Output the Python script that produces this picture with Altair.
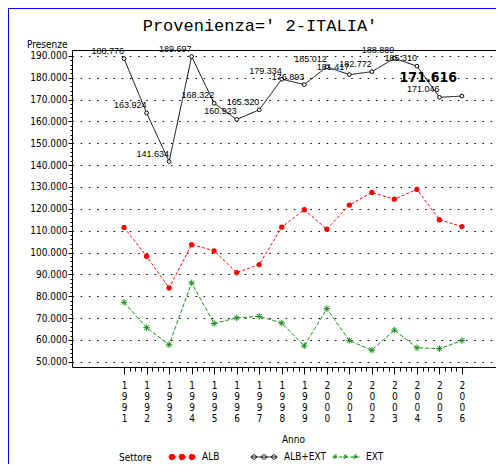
import altair as alt
import pandas as pd

years = list(range(1991, 2007))
alb = [111500, 98300, 83800, 103600, 100800, 90800, 94500, 111600,
       119600, 110700, 121700, 127500, 124400, 128900, 115000, 111900]
tot = [188776, 163924, 141634, 189697, 168322, 160923, 165320, 179334,
       176893, 185012, 181417, 182772, 188889, 185310, 171046, 171616]
ext = [77200, 65600, 57800, 86100, 67500, 70100, 70800, 67700,
       57300, 74300, 59700, 55300, 64500, 56400, 56000, 59700]
series = ["ALB", "ALB+EXT", "EXT"]
colors = ["#ff0000", "#000000", "#1a8c1a"]
y_ticks = list(range(50000, 190001, 10000))
y_minor = list(range(50000, 190001, 2000))
x_minor = [1991 + i * 0.25 for i in range(61)]
title_text = "Provenienza=' 2-ITALIA'"

rows = []
for i, yr in enumerate(years):
    rows.append({"Anno": yr, "Settore": "ALB", "Presenze": alb[i]})
    rows.append({"Anno": yr, "Settore": "ALB+EXT", "Presenze": tot[i]})
    rows.append({"Anno": yr, "Settore": "EXT", "Presenze": ext[i]})
df = pd.DataFrame(rows)

W, H = 424, 317
NARROW = "'Liberation Sans Narrow', 'DejaVu Sans Condensed', 'Liberation Sans', sans-serif"

xs = alt.Scale(domain=[1988.69, 2007.51], nice=False, zero=False)
ys = alt.Scale(domain=[47600, 192700], nice=False, zero=False)

# legend symbol paths (three markers joined by a line)
def circ(cx, r):
    return (f"M{cx + r},0A{r},{r} 0 1,1 {cx - r},0A{r},{r} 0 1,1 {cx + r},0Z")

def star(cx, r):
    d = r * 0.72
    return (f"M{cx - r},0L{cx + r},0M{cx},{-r}L{cx},{r}"
            f"M{cx - d},{-d}L{cx + d},{d}M{cx - d},{d}L{cx + d},{-d}")

p_alb = "M-1,0L1,0" + "".join(circ(c, 0.22) for c in (-0.74, 0, 0.74))
p_tot = "M-1,0L1,0" + "".join(circ(c, 0.17) for c in (-0.74, 0, 0.74))
p_ext = "M-1,0L1,0" + "".join(star(c, 0.22) for c in (-0.74, 0, 0.74))
sym_expr = (f"datum.value === 'ALB' ? '{p_alb}' : datum.value === 'ALB+EXT' ? "
            f"'{p_tot}' : '{p_ext}'")
fill_expr = ("datum.value === 'ALB' ? '#ff0000' : datum.value === 'ALB+EXT' ? "
             "'#ffffff' : 'transparent'")
ast = "M-1,0L1,0M0,-1L0,1M-0.72,-0.72L0.72,0.72M-0.72,0.72L0.72,-0.72"

base = alt.Chart(df)

lines = base.mark_line(strokeWidth=1).encode(
    x=alt.X("Anno:Q", scale=xs, axis=alt.Axis(
        values=years, format="d", labelExpr="split(datum.label, '')",
        grid=False, tickSize=7, tickColor="black", domainColor="black",
        labelFont=NARROW, labelFontSize=10, labelLineHeight=11,
        labelBaseline="top", labelAlign="center", labelPadding=6,
        labelColor="black", title="Anno", titleFont=NARROW,
        titleFontSize=10, titleFontWeight="normal", titleX=221, titleY=72,
        titleBaseline="middle", titleColor="black")),
    y=alt.Y("Presenze:Q", scale=ys, axis=alt.Axis(
        values=y_ticks, labelExpr="replace(format(datum.value, ','), ',', '.')",
        grid=True, gridDash=[1.5, 6.7], gridColor="black", gridWidth=1.2,
        tickSize=4, tickColor="black", domainColor="black",
        labelFont=NARROW, labelFontSize=10, labelPadding=1, labelColor="black",
        title="Presenze", titleAngle=0, titleAlign="right",
        titleBaseline="middle", titleX=-5, titleY=-6, titleFont=NARROW,
        titleFontSize=10, titleFontWeight="normal", titleColor="black")),
    color=alt.Color("Settore:N", scale=alt.Scale(domain=series, range=colors),
                    legend=alt.Legend(
                        orient="none", legendX=47, legendY=393,
                        direction="horizontal", title="Settore",
                        titleOrient="left", titleAnchor="middle",
                        titleBaseline="top", titleFont=NARROW,
                        titleFontSize=10, titleFontWeight="normal",
                        titleColor="black", titlePadding=16,
                        symbolType=alt.ExprRef(expr=sym_expr),
                        symbolFillColor=alt.ExprRef(expr=fill_expr),
                        symbolSize=729, symbolStrokeWidth=1,
                        labelFont=NARROW, labelFontSize=10, labelColor="black",
                        labelOffset=6, gridAlign="all", columnPadding=3)),
    strokeDash=alt.StrokeDash("Settore:N",
                              scale=alt.Scale(domain=series,
                                              range=[[3, 2], [1, 0], [4, 2]]),
                              legend=None),
)

pts_alb = base.transform_filter("datum.Settore === 'ALB'").mark_circle(
    color="#ff0000", size=28, opacity=1).encode(
    x=alt.X("Anno:Q", scale=xs, axis=alt.Axis(
        values=x_minor, labels=False, domain=False, grid=False, tickSize=4,
        tickColor="black", title=None, orient="bottom")),
    y=alt.Y("Presenze:Q", scale=ys, axis=alt.Axis(
        values=y_minor, labels=False, domain=False, grid=False, tickSize=2,
        tickColor="black", title=None, orient="left")),
)

pts_tot = base.transform_filter("datum.Settore === 'ALB+EXT'").mark_point(
    shape="circle", filled=True, fill="white", stroke="black", strokeWidth=1,
    size=14, opacity=1).encode(
    x=alt.X("Anno:Q", scale=xs, axis=alt.Axis(
        orient="top", labels=False, ticks=False, grid=False, domain=True,
        domainColor="black", title=None)),
    y=alt.Y("Presenze:Q", scale=ys, axis=None),
)

pts_ext = base.transform_filter("datum.Settore === 'EXT'").mark_point(
    shape=ast, filled=False, stroke="#1a8c1a", strokeWidth=1, size=42,
    opacity=1).encode(
    x=alt.X("Anno:Q", scale=xs, axis=None),
    y=alt.Y("Presenze:Q", scale=ys, axis=None),
)

labels = base.transform_filter(
    "datum.Settore === 'ALB+EXT' && datum.Anno < 2006").transform_calculate(
    lab="replace(format(datum.Presenze, ','), ',', '.')").mark_text(
    align="right", baseline="alphabetic", dy=-5, fontSize=9,
    font="Liberation Sans", color="black").encode(
    x=alt.X("Anno:Q", scale=xs, axis=None),
    y=alt.Y("Presenze:Q", scale=ys, axis=None),
    text="lab:N",
)

big = base.transform_filter(
    "datum.Settore === 'ALB+EXT' && datum.Anno === 2006").transform_calculate(
    lab="replace(format(datum.Presenze, ','), ',', '.')").mark_text(
    align="right", baseline="alphabetic", dx=-5, dy=-14, fontSize=14,
    fontWeight="bold", font=NARROW, color="black").encode(
    x=alt.X("Anno:Q", scale=xs, axis=None),
    y=alt.Y("Presenze:Q", scale=ys, axis=None),
    text="lab:N",
)

one = pd.DataFrame({"k": [0]})
border_left = alt.Chart(one).mark_rule(color="#0000ff", strokeWidth=1).encode(
    x=alt.value(-63.5), y=alt.value(-42), y2=alt.value(H + 120))
border_top = alt.Chart(one).mark_rule(color="#0000ff", strokeWidth=1).encode(
    y=alt.value(-41.5), x=alt.value(-64), x2=alt.value(W + 10))

chart = alt.layer(
    lines, pts_alb, pts_tot, pts_ext, labels, big, border_left, border_top
).resolve_axis(x="independent", y="independent").properties(
    width=W, height=H,
    autosize=alt.AutoSizeParams(type="none"),
    padding={"left": 64, "top": 42, "right": 0, "bottom": 97},
    title=alt.Title(title_text, font="Liberation Mono", fontSize=17,
                    fontWeight="normal", anchor="middle", dx=-24, offset=-40,
                    baseline="alphabetic", color="black"),
).configure_view(stroke=None)

chart.save("out.html", embed_options={"renderer": "svg", "actions": False})
